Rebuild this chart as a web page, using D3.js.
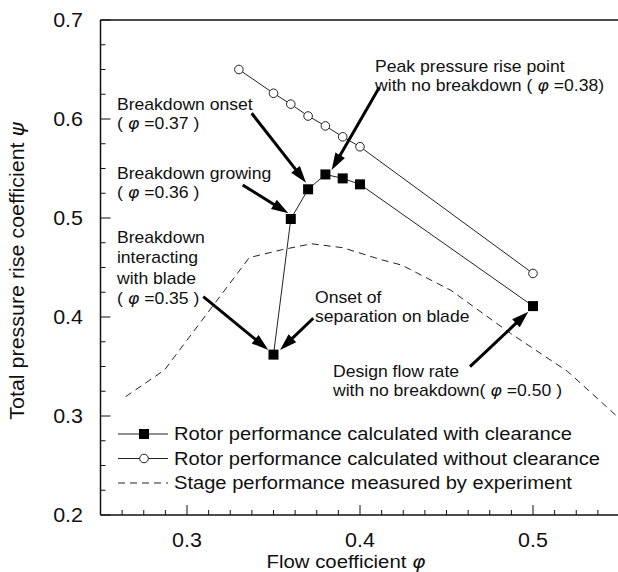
<!DOCTYPE html>
<html>
<head>
<meta charset="utf-8">
<script src="https://cdn.jsdelivr.net/npm/d3@7"></script>
<style>
  body { margin: 0; background: #fff; }
  svg text { font-family: "Liberation Sans", Arial, Helvetica, sans-serif; fill: #111; }
</style>
</head>
<body>
<svg id="chart" width="618" height="572"></svg>
<script>
// rotor with clearance (filled squares)
const phiClear = [0.35, 0.36, 0.37, 0.38, 0.39, 0.40, 0.50];
const psiClear = [0.362, 0.499, 0.529, 0.544, 0.540, 0.534, 0.411];

// rotor without clearance (open circles)
const phiNoClear = [0.33, 0.35, 0.36, 0.37, 0.38, 0.39, 0.40, 0.50];
const psiNoClear = [0.650, 0.626, 0.615, 0.603, 0.593, 0.582, 0.572, 0.444];

// stage, measured (dashed)
const phiStage = [0.2645, 0.287, 0.336, 0.355, 0.372, 0.390, 0.412, 0.424, 0.4525, 0.487, 0.520, 0.549];
const psiStage = [0.3195, 0.3465, 0.460, 0.468, 0.474, 0.470, 0.458, 0.4525, 0.427, 0.3835, 0.345, 0.299];

const xTicks = [0.3, 0.4, 0.5];
const yTicks = [0.2, 0.3, 0.4, 0.5, 0.6, 0.7];

const legendLabels = [
  "Rotor performance calculated with clearance",
  "Rotor performance calculated without clearance",
  "Stage performance measured by experiment"
];

// annotations: text lines + anchor (phi, psi) and arrow from/to
const notes = [
  { lines: ["Breakdown onset", ["( ", "φ", " =0.37 )"]], at: [0.2595, 0.609] },
  { lines: ["Breakdown growing", ["( ", "φ", " =0.36 )"]], at: [0.2595, 0.5394] },
  { lines: ["Breakdown", "interacting", "with blade", ["( ", "φ", " =0.35 )"]], at: [0.2595, 0.4747] },
  { lines: ["Peak pressure rise point", ["with no breakdown ( ", "φ", " =0.38)"]], at: [0.4087, 0.6475] },
  { lines: ["Onset of", "separation on blade"], at: [0.374, 0.4141] },
  { lines: ["Design flow rate", ["with no breakdown( ", "φ", " =0.50 )"]], at: [0.3844, 0.3394] }
];
const arrows = [
  { from: [0.3374, 0.6058], to: [0.3688, 0.5357] },
  { from: [0.4112, 0.632], to: [0.3836, 0.5485] },
  { from: [0.3322, 0.5333], to: [0.3586, 0.5047] },
  { from: [0.3094, 0.4205], to: [0.3470, 0.3667] },
  { from: [0.3730, 0.3987], to: [0.3538, 0.3667] },
  { from: [0.4636, 0.3498], to: [0.4973, 0.4054] }
];

const svg = d3.select("#chart");
const SX = 1.1; // scanned lettering is a bit wide

const x = d3.scaleLinear().domain([0.25, 0.55]).range([100.5, 619.5]);
const y = d3.scaleLinear().domain([0.2, 0.7]).range([515, 20]);

function txt(parent, px, py, size, anchor, rot) {
  return parent.append("text")
    .attr("transform", `translate(${px},${py})` + (rot ? ` rotate(${rot})` : "") + ` scale(${SX},1)`)
    .attr("font-size", size)
    .attr("text-anchor", anchor || "start");
}
function fillLine(t, parts) {
  if (typeof parts === "string") { t.text(parts); return; }
  parts.forEach((p, i) => {
    const s = t.append("tspan").text(p);
    if (i === 1) s.attr("font-style", "italic").attr("font-family", "DejaVu Sans, sans-serif");
  });
}

// frame
const frame = svg.append("g").attr("stroke", "#111").attr("fill", "none");
frame.append("line").attr("x1", x(0.25)).attr("x2", 618).attr("y1", y(0.7)).attr("y2", y(0.7)).attr("stroke-width", 1.3);
frame.append("line").attr("x1", x(0.25)).attr("x2", x(0.25)).attr("y1", y(0.7)).attr("y2", y(0.2)).attr("stroke-width", 1.5);
frame.append("line").attr("x1", x(0.25)).attr("x2", 618).attr("y1", y(0.2)).attr("y2", y(0.2)).attr("stroke-width", 1.5);

// ticks (inward)
const yMinor = d3.range(0.2, 0.7001, 0.025);
frame.selectAll(".ym").data(yMinor).enter().append("line")
  .attr("x1", x(0.25)).attr("x2", (d, i) => x(0.25) + (i % 4 === 0 ? 10 : 5))
  .attr("y1", d => y(d)).attr("y2", d => y(d)).attr("stroke-width", 1);
const xMinor = d3.range(0.25, 0.5501, 0.0125);
frame.selectAll(".xm").data(xMinor).enter().append("line")
  .attr("x1", d => x(d)).attr("x2", d => x(d))
  .attr("y1", y(0.2)).attr("y2", (d, i) => y(0.2) - (i % 8 === 4 ? 10 : 5)).attr("stroke-width", 1);

// tick labels
yTicks.forEach(v => {
  txt(svg, 83, y(v) + 7, 19.5, "end").text(v.toFixed(1));
});
xTicks.forEach(v => {
  txt(svg, x(v), 547, 19.5, "middle").text(v.toFixed(1));
});

// axis titles
const xt = txt(svg, 346, 568, 18.5, "middle");
xt.append("tspan").text("Flow coefficient ");
xt.append("tspan").attr("font-style", "italic").attr("font-family", "DejaVu Sans, sans-serif").text("φ");
const yt = txt(svg, 24, 271, 19.5, "middle", -90);
yt.append("tspan").text("Total pressure rise coefficient ");
yt.append("tspan").attr("font-style", "italic").attr("font-family", "DejaVu Sans, sans-serif").text("ψ");

// series
const line = d3.line().x(d => x(d[0])).y(d => y(d[1]));
const stage = d3.zip(phiStage, psiStage);
const noClear = d3.zip(phiNoClear, psiNoClear);
const clear = d3.zip(phiClear, psiClear);

svg.append("path").datum(stage).attr("d", line)
  .attr("fill", "none").attr("stroke", "#222").attr("stroke-width", 1).attr("stroke-dasharray", "7,5");
svg.append("path").datum(noClear).attr("d", line)
  .attr("fill", "none").attr("stroke", "#222").attr("stroke-width", 1);
svg.append("path").datum(clear).attr("d", line)
  .attr("fill", "none").attr("stroke", "#222").attr("stroke-width", 1);

svg.selectAll(".oc").data(noClear).enter().append("circle")
  .attr("cx", d => x(d[0])).attr("cy", d => y(d[1])).attr("r", 4.3)
  .attr("fill", "#fff").attr("stroke", "#222").attr("stroke-width", 1);
svg.selectAll(".sq").data(clear).enter().append("rect")
  .attr("x", d => x(d[0]) - 5).attr("y", d => y(d[1]) - 5)
  .attr("width", 10).attr("height", 10).attr("fill", "#000");

// arrows
const ag = svg.append("g");
arrows.forEach(a => {
  const x0 = x(a.from[0]), y0 = y(a.from[1]), x1 = x(a.to[0]), y1 = y(a.to[1]);
  const ang = Math.atan2(y1 - y0, x1 - x0);
  const L = 17, W = 5.5;
  const bx = x1 - L * Math.cos(ang), by = y1 - L * Math.sin(ang);
  ag.append("line").attr("x1", x0).attr("y1", y0).attr("x2", bx + 2 * Math.cos(ang)).attr("y2", by + 2 * Math.sin(ang))
    .attr("stroke", "#000").attr("stroke-width", 3);
  const px = -Math.sin(ang), py = Math.cos(ang);
  ag.append("path")
    .attr("d", `M${x1},${y1}L${bx + W * px},${by + W * py}L${bx - W * px},${by - W * py}Z`)
    .attr("fill", "#000");
});

// annotation text
notes.forEach(n => {
  const px = x(n.at[0]), py = y(n.at[1]);
  const step = n.lines.length > 2 ? 20.3 : 19;
  n.lines.forEach((ln, i) => {
    fillLine(txt(svg, px, py + i * step, 16, "start"), ln);
  });
});

// legend
const lg = svg.append("g");
legendLabels.forEach((lab, i) => {
  const cy = 434 + i * 24.5;
  const l = lg.append("line").attr("x1", 118).attr("x2", 168).attr("y1", cy).attr("y2", cy)
    .attr("stroke", "#222").attr("stroke-width", 1);
  if (i === 2) l.attr("stroke-dasharray", "7,5");
  if (i === 0) lg.append("rect").attr("x", 139).attr("y", cy - 5).attr("width", 10).attr("height", 10).attr("fill", "#000");
  if (i === 1) lg.append("circle").attr("cx", 144).attr("cy", cy).attr("r", 4.3).attr("fill", "#fff").attr("stroke", "#222");
  txt(lg, 174, cy + 6, 18.3, "start").text(lab);
});
</script>
</body>
</html>
